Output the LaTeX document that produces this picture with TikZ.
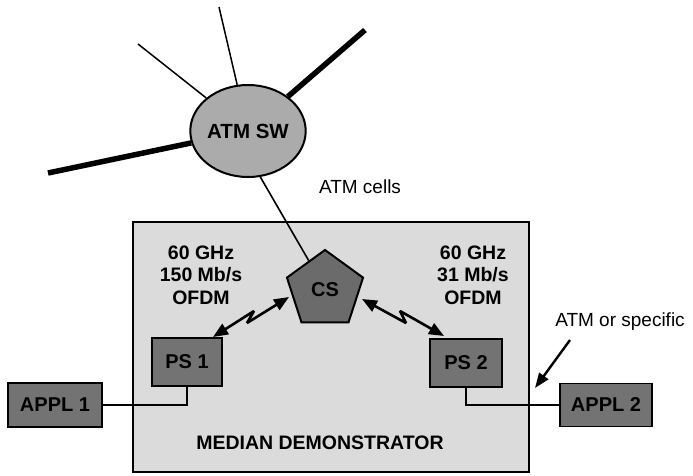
\documentclass[tikz,border=0pt]{standalone}
\usepackage{fontspec}
\setmainfont{Liberation Sans}
\usetikzlibrary{shapes.geometric,arrows.meta,calc}
\begin{document}
\begin{tikzpicture}[x=1pt,y=-1pt,
  lbl/.style={font=\fontsize{19}{22.5}\selectfont},
  blbl/.style={font=\fontsize{19.5}{22.5}\selectfont\bfseries, align=center},
  darkbox/.style={draw, line width=1.8pt, fill=black!55, inner sep=0pt,
    font=\fontsize{20}{22}\selectfont\bfseries, text=black},
  thinline/.style={line width=1.5pt},
  thickline/.style={line width=5.5pt},
  link/.style={line width=1.6pt},
  radio/.style={line width=2.6pt, line join=bevel,
    {Triangle[length=15pt,width=12pt]}-{Triangle[length=15pt,width=12pt]}},
  pointer/.style={line width=2.4pt, -{Triangle[length=15pt,width=11pt]}}
]
\useasboundingbox (0,0) rectangle (693,476);

% demonstrator area
\node[draw, line width=2pt, fill=black!14, minimum width=396pt, minimum height=250pt,
  inner sep=0pt] (demo) at (331,347) {};

% ATM switch
\node[ellipse, draw, line width=2pt, fill=black!33, minimum width=108pt,
  minimum height=92pt, inner sep=0pt, font=\fontsize{20.5}{22}\selectfont\bfseries]
  (sw) at (248,131) {ATM SW};

% central station
\node[regular polygon, regular polygon sides=5, draw, line width=2pt, fill=black!58,
  minimum size=80pt, inner sep=0pt, font=\fontsize{20}{22}\selectfont\bfseries]
  (cs) at (325,290) {CS};

% portable stations and applications
\node[darkbox, minimum width=70pt, minimum height=48pt] (ps1) at (187,362) {PS 1};
\node[darkbox, minimum width=72pt, minimum height=48pt] (ps2) at (466,363) {PS 2};
\node[darkbox, minimum width=94pt, minimum height=44pt] (appl1) at (55,405) {APPL 1};
\node[darkbox, minimum width=92pt, minimum height=43pt] (appl2) at (606,405) {APPL 2};

% network lines around the switch
\coordinate (n1) at (219,7);
\coordinate (n2) at (138,44);
\coordinate (n3) at (365,30);
\coordinate (n4) at (48,173);
\draw[thinline] (n1) -- (sw);
\draw[thinline] (n2) -- (sw);
\draw[thickline] (n3) -- (sw);
\draw[thickline] (n4) -- (sw);

% switch to central station
\draw[link] (sw.-75) -- (cs.119);

% radio links
\coordinate (a1) at (213,337);
\coordinate (a2) at (289,297);
\coordinate (ap) at (254,311);
\coordinate (aq) at (247,323);
\draw[radio] (a1) -- (ap) -- (aq) -- (a2);
\coordinate (b1) at (362,299);
\coordinate (b2) at (444,336);
\coordinate (bp) at (406,323);
\coordinate (bq) at (400,311);
\draw[radio] (b1) -- (bp) -- (bq) -- (b2);

% wired links to applications
\draw[link] (appl1.east) -| (ps1.south);
\draw[link] (ps2.south) |- (appl2.west);

% labels
\node[lbl] (cells) at (360,187) {ATM cells};
\node[blbl] (l1) at (201,275) {60 GHz\\150 Mb/s\\OFDM};
\node[blbl] (l2) at (473,275) {60 GHz\\31 Mb/s\\OFDM};
\node[lbl, font=\fontsize{19.5}{22.5}\selectfont\bfseries] (mdemo) at (320,443) {MEDIAN DEMONSTRATOR};
\node[lbl] (spec) at (620,322) {ATM or specific};

% pointer to the interface
\coordinate (sp) at (570,340);
\coordinate (st) at (535,388);
\draw[pointer] (sp) -- (st);
\end{tikzpicture}
\end{document}
